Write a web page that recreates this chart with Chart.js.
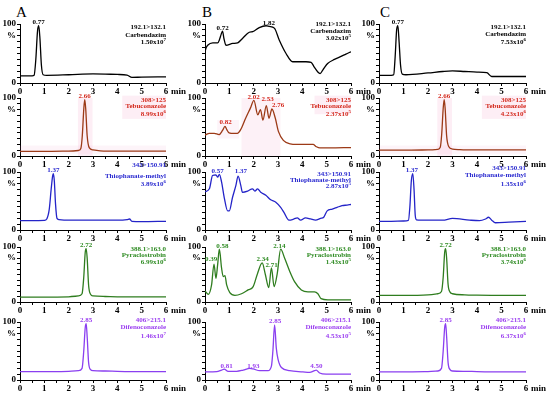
<!DOCTYPE html>
<html><head><meta charset="utf-8">
<script src="https://cdn.jsdelivr.net/npm/chart.js@4"></script>
<style>
html,body{margin:0;padding:0;background:#fff;}
body{width:550px;height:395px;position:relative;overflow:hidden;}
canvas{position:absolute;}
.lbl{position:absolute;font-family:"Liberation Serif","Times New Roman",serif;font-size:15px;color:#000;line-height:15px;}
</style></head><body>
<div class="lbl" style="left:16px;top:5px">A</div>
<div class="lbl" style="left:202px;top:5px">B</div>
<div class="lbl" style="left:380px;top:5px">C</div>
<script>
// ---------- DATA ----------
const transitions = ['192.1>132.1','308>125','343>150.91','388.1>163.0','406>215.1'];
const compounds = ['Carbendazim','Tebuconazole','Thiophanate-methyl','Pyraclostrobin','Difenoconazole'];
const mantA = ['1.50','8.99','3.89','6.99','1.46'], expA = ['7','6','6','6','7'];
const mantB = ['3.02','2.37','2.87','1.43','4.53'], expB = ['5','5','5','5','5'];
const mantC = ['7.53','4.23','1.35','3.74','6.37'], expC = ['6','6','6','6','6'];

// Column A (standard)
const tA1=[0,0.5,0.58,0.65,0.72,0.77,0.82,0.88,0.95,1.1,2.0,3.0,4.0,4.4,4.6,5.0,6.0];
const vA1=[12,12,13,40,88,97,75,30,14,13,14,15.5,14.5,13.5,9.5,10,10.5];
const tA2=[0,1,2,2.4,2.5,2.56,2.62,2.66,2.7,2.76,2.85,3.0,3.3,4,5,6];
const vA2=[8,8,8.5,9.5,13,35,80,97,82,35,14,10.5,9,8.5,8.5,8.5];
const tA3=[0,0.5,1.0,1.1,1.2,1.28,1.34,1.37,1.41,1.46,1.52,1.6,2.0,3.0,4.0,4.4,4.5,4.6,5.0,6.0];
const vA3=[16,16,16.5,19,35,70,93,97,85,45,20,18,17,17,17,18,19,15,14.5,15];
const tA4=[0,1,2,2.4,2.55,2.62,2.68,2.72,2.76,2.82,2.9,3.0,3.5,4,5,6];
const vA4=[9,9,9.5,11,15,45,90,97,80,30,14,11,10,9.5,9.5,9.5];
const tA5=[0,1,2,2.4,2.55,2.62,2.68,2.72,2.76,2.82,2.9,3.0,3.5,4,5,6];
const vA5=[14.5,14.5,15,16,20,50,90,97,75,30,18,16,15.5,15,14.5,14.5];
// Column B (matrix)
const tB1=[0,0.05,0.11,0.32,0.52,0.6,0.66,0.72,0.78,0.86,1.14,1.34,1.55,1.82,1.96,2.23,2.51,2.64,2.85,3.05,3.33,3.6,3.88,4.15,4.36,4.49,4.63,4.73,4.84,5.04,5.32,5.59,5.79,6.0];
const vB1=[53,60,64,68,68,74,82,88,75,64,67,68,76,86,87,94,97,96,93,73,50,36,36,36,35,27,19,16,22,33,40,45,49,53];
const tB2=[0,0.18,0.38,0.58,0.72,0.82,0.9,0.99,1.19,1.33,1.46,1.67,1.87,2.01,2.17,2.28,2.38,2.52,2.63,2.75,2.89,3.02,3.22,3.5,3.77,4.17,4.44,4.58,4.72,5.12,6.0];
const vB2=[36,39,39,37,44,51,45,40,39,39,45,65,83,96,71,80,62,87,65,81,65,42,27,21,20,20,20,16,14,14,14.5];
const tB3=[0,0.18,0.31,0.45,0.52,0.59,0.68,0.79,0.93,1.0,1.13,1.27,1.36,1.47,1.54,1.75,1.95,2.05,2.16,2.29,2.5,2.7,2.91,3.11,3.25,3.45,3.66,3.79,3.93,4.13,4.34,4.54,4.75,4.88,5.02,5.23,5.43,5.63,5.84,6.0];
const vB3=[66,71,94,95,91,96,83,56,33,33,56,77,93,77,65,67,71,67,71,65,60,52,48,39,30,17,19,21,17,21,19,17,20,22,33,36,39,42,43,44];
const tB4=[0,0.14,0.27,0.37,0.45,0.52,0.59,0.68,0.75,0.82,0.89,1.02,1.23,1.5,1.77,1.98,2.16,2.35,2.48,2.62,2.73,2.84,2.97,3.11,3.27,3.48,3.68,3.96,4.23,4.5,4.64,4.77,5.05,6.0];
const vB4=[20,14,31,69,43,68,96,62,46,48,31,17,12,15,22,28,52,71,50,26,62,28,52,96,80,56,37,22,18.5,18.5,15,6,4,4];
const tB5=[0,0.48,0.68,0.79,0.95,1.3,1.57,1.84,1.98,2.25,2.59,2.73,2.79,2.86,2.93,3.0,3.14,3.48,4.02,4.3,4.5,4.57,4.71,4.98,6.0];
const vB5=[14,14.5,17,18.6,15,15,17,20,19,16,16,24,50,95,55,36,21.5,16,14,13,16,17,12,10,10];
// Column C (sample)
const tC1=[0,0.5,0.6,0.66,0.72,0.77,0.82,0.88,0.95,1.1,2.0,2.6,3.0,3.5,4.0,4.4,4.6,5.0,6.0];
const vC1=[13,13,14,45,90,97,70,30,15,14,17,19.5,20.5,19.5,18.5,17.5,11,11,11];
const tC2=[0,1,2,2.4,2.5,2.56,2.62,2.66,2.7,2.76,2.85,3.0,3.3,4,5,6];
const vC2=[10,10,10.5,11.5,15,38,82,97,82,35,16,12,11,10.5,10.5,10.5];
const tC3=[0,0.5,1.0,1.2,1.26,1.32,1.38,1.43,1.48,1.53,1.7,2.6,3.0,3.7,4.1,4.35,4.47,4.6,4.75,5.3,6.0];
const vC3=[15,15,15.5,16.5,40,85,97,70,25,17.5,17,17,20,17,16,19,22,17,12.5,13.5,15];
const tC4=[0,1,2,2.4,2.55,2.62,2.68,2.72,2.76,2.82,2.9,3.0,3.5,4,5,6];
const vC4=[12,12,13,15,19,45,90,97,80,32,18,15,13,12.5,12,12];
const tC5=[0,1,2,2.4,2.55,2.62,2.68,2.72,2.76,2.82,2.9,3.0,3.5,4,5,6];
const vC5=[14,14,14.5,15.5,20,50,90,97,75,30,18,15.5,15,14.5,14,14];

// Peak labels: [text, time, intensity]
const pkA1=[['0.77',0.77,99.5]], pkA2=[['2.66',2.66,99.5]], pkA3=[['1.37',1.37,99.5]], pkA4=[['2.72',2.72,99.5]], pkA5=[['2.85',2.72,99.5]];
const pkB1=[['0.72',0.72,89],['1.82',2.62,99]];
const pkB2=[['0.82',0.85,55],['2.02',2.0,99],['2.53',2.57,94],['2.76',3.0,84]];
const pkB3=[['0.57',0.52,99],['1.37',1.47,99]];
const pkB4=[['0.39',0.25,75],['0.58',0.71,99],['2.34',2.37,75],['2.71',2.74,63],['2.14',3.06,99]];
const pkB5=[['0.81',0.89,20],['1.93',1.99,20],['2.85',2.88,99],['4.50',4.58,20]];
const pkC1=[['0.77',0.77,99.5]], pkC2=[['2.66',2.66,99.5]], pkC3=[['1.37',1.34,99.5]], pkC4=[['2.72',2.72,99.5]], pkC5=[['2.85',2.72,99.5]];

// ---------- LAYOUT / STYLE ----------
const FONT='"Liberation Serif","Times New Roman",serif';
const YW=20, PR=24, PT=14, XH=14;
const cols=[{x0:20,x6:166},{x0:205,x6:351},{x0:379,x6:526}];
const rows=[{y100:24,y0:83},{y100:98,y0:156},{y100:172,y0:230},{y100:247,y0:302},{y100:322,y0:380}];
const lineCol=['#000000','#9c3a17','#2424c8','#2f7d1f','#8a3ff0'];
const textCol=['#000000','#d42a1e','#2b2bd0','#2e8b22','#9b3ff0'];
const rowTextY=[[5,12.5,20],[3.5,10,17.5],[-5.5,5.5,13.5],[3.5,10,16.5],[-0.5,6.5,16]];
const pinkA=[[2.38,2.98,0,100,0.16],[4.2,6,64,104,0.16],[0,6,3,18,0.1]];
const pinkB=[[1.5,3.1,0,100,0.13],[4.5,6,72,104,0.16],[0.5,1.4,30,62,0.1]];

const series=[[tA1,vA1,tB1,vB1,tC1,vC1],[tA2,vA2,tB2,vB2,tC2,vC2],[tA3,vA3,tB3,vB3,tC3,vC3],[tA4,vA4,tB4,vB4,tC4,vC4],[tA5,vA5,tB5,vB5,tC5,vC5]];
const peaks=[[pkA1,pkB1,pkC1],[pkA2,pkB2,pkC2],[pkA3,pkB3,pkC3],[pkA4,pkB4,pkC4],[pkA5,pkB5,pkC5]];
const mants=[mantA,mantB,mantC], exps=[expA,expB,expC];
const textYOverride={'0-1':[1.5,8.5,16],'2-1':[3.5,9.5,15.5],'2-2':[-2.5,5,13.5],'0-2':[4.5,12,20]};

const annot={
  id:'annot',
  beforeDatasetsDraw(chart){
    const p=chart.options.plugins.annot; if(!p.pink) return;
    const {ctx,scales:{x,y}}=chart;
    ctx.save();
    p.pink.forEach(r=>{
      ctx.fillStyle='rgba(240,150,195,'+r[4]+')';
      const x1=x.getPixelForValue(r[0]), x2=x.getPixelForValue(r[1]);
      const y1=y.getPixelForValue(r[3]), y2=y.getPixelForValue(r[2]);
      ctx.fillRect(x1,y1,x2-x1,y2-y1);
    });
    ctx.restore();
  },
  afterDraw(chart){
    const p=chart.options.plugins.annot;
    const {ctx,chartArea,scales:{x,y}}=chart;
    ctx.save();
    ctx.fillStyle='#000'; ctx.font='bold 9px '+FONT; ctx.textAlign='left'; ctx.textBaseline='middle';
    ctx.fillText('min', x.getPixelForValue(6)+5, chartArea.bottom+8.5);
    ctx.fillStyle=p.tcol; ctx.font='bold 7px '+FONT; ctx.textAlign='center'; ctx.textBaseline='alphabetic';
    p.peaks.forEach(k=>ctx.fillText(k[0], x.getPixelForValue(k[1]), y.getPixelForValue(k[2])));
    const right=chartArea.right;
    const ty=p.ty.map(o=>chartArea.top+o);
    ctx.textAlign='right';
    ctx.font='bold 7px '+FONT;
    ctx.fillText(p.tr, right, ty[0]);
    ctx.fillText(p.cp, right, ty[1]);
    ctx.font='bold 5px '+FONT;
    const sw=ctx.measureText(p.ex).width;
    ctx.textAlign='left';
    ctx.fillText(p.ex, right-sw, ty[2]-3);
    ctx.textAlign='right'; ctx.font='bold 7px '+FONT;
    ctx.fillText(p.mt+'x10', right-sw, ty[2]);
    ctx.restore();
  }
};

for(let r=0;r<5;r++){
  for(let c=0;c<3;c++){
    const col=cols[c], row=rows[r];
    const t=series[r][c*2], v=series[r][c*2+1];
    const w=YW+(col.x6-col.x0)+PR, h=PT+(row.y0-row.y100)+XH;
    const cv=document.createElement('canvas');
    cv.width=w; cv.height=h;
    cv.style.left=(col.x0-YW)+'px'; cv.style.top=(row.y100-PT)+'px';
    cv.style.width=w+'px'; cv.style.height=h+'px';
    document.body.appendChild(cv);
    const key=r+'-'+c;
    new Chart(cv,{
      type:'line',
      data:{datasets:[{data:t.map((tt,i)=>({x:tt,y:v[i]})),borderColor:lineCol[r],borderWidth:1.3,pointRadius:0,cubicInterpolationMode:'monotone',fill:false}]},
      options:{
        responsive:false, animation:false, events:[], devicePixelRatio:1,
        layout:{padding:{left:0,right:PR,top:PT,bottom:0}},
        plugins:{legend:{display:false},tooltip:{enabled:false},
          annot:{peaks:peaks[r][c],tcol:textCol[r],tr:transitions[r],cp:compounds[r],mt:mants[c][r],ex:exps[c][r],
                 ty:textYOverride[key]||rowTextY[r], pink:(r===1?(c===1?pinkB:pinkA):null)}},
        scales:{
          x:{type:'linear',min:0,max:6,afterFit:s=>{s.height=XH;},
             ticks:{stepSize:0.5,autoSkip:false,maxRotation:0,padding:0,color:'#000',font:{family:FONT,size:9,weight:'bold'},
                    callback:val=>Number.isInteger(val)?String(val):''},
             grid:{drawOnChartArea:false,tickLength:3,color:'#000',lineWidth:1},
             border:{color:'#000',width:1}},
          y:{min:0,max:100,afterFit:s=>{s.width=YW;},
             ticks:{stepSize:10,autoSkip:false,padding:1,color:'#000',font:{family:FONT,size:9,weight:'bold'},
                    callback:val=>val===100?'100':(val===80?'%':(val===0?'0':''))},
             grid:{drawOnChartArea:false,tickLength:3,color:'#000',lineWidth:1},
             border:{color:'#000',width:1}}
        }
      },
      plugins:[annot]
    });
  }
}
</script>
</body></html>
